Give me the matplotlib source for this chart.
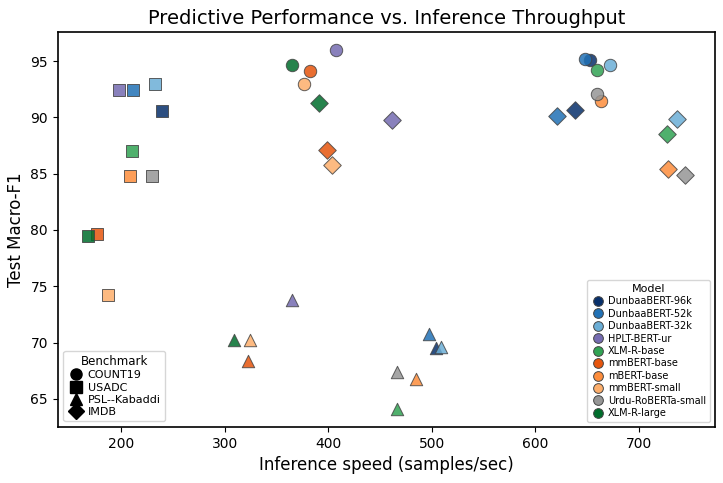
import numpy as np
import matplotlib
matplotlib.use("Agg")
import matplotlib.pyplot as plt
from matplotlib.lines import Line2D

# Models and colours
models = ["DunbaaBERT-96k", "DunbaaBERT-52k", "DunbaaBERT-32k", "HPLT-BERT-ur",
          "XLM-R-base", "mmBERT-base", "mBERT-base", "mmBERT-small",
          "Urdu-RoBERTa-small", "XLM-R-large"]
colors = ["#08306b", "#2171b5", "#6baed6", "#756bb1", "#31a354",
          "#e6550d", "#fd8d3c", "#fdae6b", "#969696", "#006d2c"]

benchmarks = ["COUNT19", "USADC", "PSL--Kabaddi", "IMDB"]
markers = ["o", "s", "^", "D"]

# Inference speed (samples/sec), model order as above
count19_speed = [653, 647.6, 672, 407.5, 660, 382, 663.6, 377, 660, 365]
usadc_speed = [239.3, 212, 232.5, 198.4, 211, 177, 208.4, 187.5, 230.2, 168]
psl_speed = [504, 497, 508.6, 365.4, 466, 323, 484.7, 324.5, 466, 308.8]
imdb_speed = [638.2, 621, 736.7, 461.3, 727, 398.8, 728.3, 404, 744.4, 391]

# Test macro-F1
count19_f1 = [95.1, 95.2, 94.7, 96.0, 94.2, 94.1, 91.5, 93.0, 92.1, 94.7]
usadc_f1 = [90.6, 92.4, 93.0, 92.4, 87.0, 79.6, 84.8, 74.2, 84.8, 79.5]
psl_f1 = [69.5, 70.8, 69.6, 73.8, 64.1, 68.35, 66.8, 70.2, 67.4, 70.2]
imdb_f1 = [90.7, 90.1, 89.85, 89.8, 88.55, 87.1, 85.4, 85.8, 84.9, 91.25]

speeds = [count19_speed, usadc_speed, psl_speed, imdb_speed]
scores = [count19_f1, usadc_f1, psl_f1, imdb_f1]


def main():
    fig = plt.figure(figsize=(7.23, 4.83), dpi=100)
    ax = fig.add_axes([0.080, 0.116, 0.909, 0.818])

    for i, model in enumerate(models):
        for b in range(len(benchmarks)):
            ax.scatter(speeds[b][i], scores[b][i], s=80, marker=markers[b],
                       color=colors[i], alpha=0.85, edgecolor="#444444",
                       linewidth=0.7, zorder=3)

    ax.set_xlim(139, 773.5)
    ax.set_ylim(62.5, 97.6)
    ax.set_xticks([200, 300, 400, 500, 600, 700])
    ax.set_yticks([65, 70, 75, 80, 85, 90, 95])
    ax.tick_params(labelsize=10)
    for sp in ax.spines.values():
        sp.set_linewidth(1.2)

    ax.set_title("Predictive Performance vs. Inference Throughput", fontsize=14)
    ax.set_xlabel("Inference speed (samples/sec)", fontsize=12)
    ax.set_ylabel("Test Macro-F1", fontsize=12)

    # Model legend (colours)
    model_handles = [Line2D([0], [0], marker="o", linestyle="", markersize=7,
                            markerfacecolor=c, markeredgecolor="#444444",
                            markeredgewidth=0.7, label=m)
                     for m, c in zip(models, colors)]
    leg1 = ax.legend(handles=model_handles, title="Model", loc="lower right",
                     fontsize=7, title_fontsize=8, handletextpad=0.3,
                     labelspacing=0.25, borderpad=0.4, handlelength=1.5)
    ax.add_artist(leg1)

    # Benchmark legend (markers)
    bench_handles = [Line2D([0], [0], marker=mk, linestyle="", markersize=8,
                            markerfacecolor="black", markeredgecolor="black",
                            label=b)
                     for b, mk in zip(benchmarks, markers)]
    ax.legend(handles=bench_handles, title="Benchmark", loc="lower left",
              fontsize=8, title_fontsize=8.5, handletextpad=0.3,
              labelspacing=0.2, borderpad=0.4, handlelength=1.5)

    fig.savefig("out.png", dpi=100)


if __name__ == "__main__":
    main()
